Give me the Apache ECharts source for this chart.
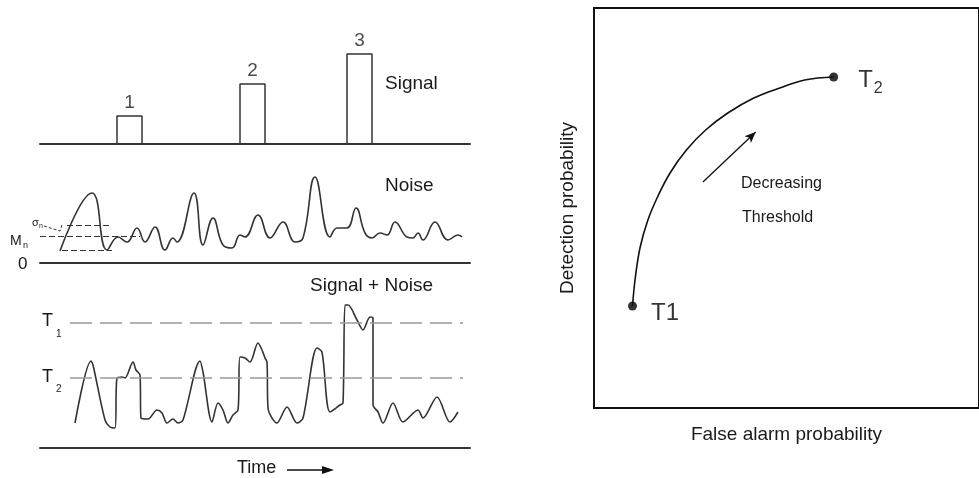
<!DOCTYPE html>
<html>
<head>
<meta charset="utf-8">
<script src="https://cdn.jsdelivr.net/npm/echarts@6/dist/echarts.min.js"></script>
<style>
html, body { margin: 0; padding: 0; background: #fff; }
#chart { width: 979px; height: 478px; }
</style>
</head>
<body>
<div id="chart"></div>
<script>
// left panels share one time axis (0..430)
const pulseStart = [77, 200, 307]
const pulseEnd = [102, 225, 332]
const pulseHeight = [28, 60, 90]
const pulseLabels = ['1', '2', '3']

const noiseT = [20, 52, 67, 78, 87, 97, 105, 115, 125, 133, 137, 154, 163, 173, 183, 192, 200, 205, 218, 230, 243, 255, 263, 275, 290, 297, 307, 316, 325, 332, 340, 347, 355, 367, 373, 378, 383, 395, 408, 418, 422]
const noiseV = [12, 70, 13, 26, 21, 35, 21, 36, 13, 25, 21, 70, 18, 45, 18, 15, 28, 26, 48, 25, 41, 21, 25, 86, 26, 35, 35, 55, 30, 25, 30, 28, 41, 26, 25, 30, 23, 41, 23, 28, 26]
const noiseMean = 27
const noiseUpper = 38
const noiseLower = 13

const sumT = [35, 51, 53, 65, 70, 75, 77, 82, 85, 93, 96, 100, 101, 108, 117, 122, 127, 133, 138, 143, 160, 163, 172, 178, 183, 188, 193, 198, 200, 205, 210, 218, 222, 225, 227, 228, 237, 247, 257, 263, 277, 282, 290, 300, 303, 305, 308, 317, 323, 330, 333, 333, 338, 343, 353, 363, 378, 383, 397, 410, 418]
const sumV = [25, 87, 83, 28, 21, 20, 70, 71, 70, 86, 78, 73, 30, 29, 38, 35, 25, 29, 25, 28, 87, 76, 26, 45, 38, 25, 33, 38, 91, 90, 86, 105, 98, 90, 86, 40, 25, 41, 25, 30, 100, 96, 36, 43, 45, 143, 143, 128, 118, 131, 130, 43, 36, 25, 45, 26, 38, 30, 51, 26, 36]
const thresholdValues = [125, 70]

// ROC curve, both axes 0..1
const rocX = [0.1, 0.1075, 0.12, 0.14, 0.165, 0.1975, 0.24, 0.29, 0.3475, 0.415, 0.4825, 0.5475, 0.6225]
const rocY = [0.255, 0.3275, 0.4025, 0.47, 0.5275, 0.5875, 0.645, 0.695, 0.7375, 0.775, 0.8, 0.82, 0.8275]
const arrowFrom = [0.283, 0.565]
const arrowTo = [0.42, 0.69]

const font = 'Liberation Sans, Arial, sans-serif'
const ink = '#1a1a1a'
const lineColor = '#333'

const signalData = [[0, 0]]
pulseStart.forEach((s, i) => {
  signalData.push([s, 0], [s, pulseHeight[i]], [pulseEnd[i], pulseHeight[i]], [pulseEnd[i], 0])
})
signalData.push([430, 0])

const leftX = (gridIndex) => ({
  type: 'value',
  gridIndex,
  min: 0,
  max: 430,
  axisLine: { show: true, onZero: false, lineStyle: { color: lineColor, width: 2 } },
  axisTick: { show: false },
  axisLabel: { show: false },
  splitLine: { show: false }
})
const hiddenY = (gridIndex, max) => ({
  type: 'value',
  gridIndex,
  min: 0,
  max,
  show: false
})

const dashedSeg = (t0, t1, v) => [{ coord: [t0, v] }, { coord: [t1, v] }]

const txt = (x, y, text, size, extra) => ({
  type: 'text',
  x, y,
  style: Object.assign({ text, fontSize: size, fontFamily: font, fill: ink, verticalAlign: 'middle' }, extra || {})
})

const chart = echarts.init(document.getElementById('chart'))
chart.setOption({
  animation: false,
  backgroundColor: '#fff',
  grid: [
    { left: 40, top: 44, width: 430, height: 100 },
    { left: 40, top: 163, width: 430, height: 100 },
    { left: 40, top: 288, width: 430, height: 160 },
    { left: 594, top: 8, width: 400, height: 400, show: true, borderColor: '#111', borderWidth: 2, backgroundColor: 'transparent' }
  ],
  xAxis: [
    leftX(0), leftX(1), leftX(2),
    {
      type: 'value', gridIndex: 3, min: 0, max: 1,
      name: 'False alarm probability', nameLocation: 'middle', nameGap: 17,
      nameTextStyle: { fontSize: 19, fontFamily: font, color: ink },
      axisLine: { show: false }, axisTick: { show: false }, axisLabel: { show: false }, splitLine: { show: false }
    }
  ],
  yAxis: [
    hiddenY(0, 100), hiddenY(1, 100), hiddenY(2, 160),
    {
      type: 'value', gridIndex: 3, min: 0, max: 1,
      name: 'Detection probability', nameLocation: 'middle', nameGap: 17,
      nameTextStyle: { fontSize: 19, fontFamily: font, color: ink },
      axisLine: { show: false }, axisTick: { show: false }, axisLabel: { show: false }, splitLine: { show: false }
    }
  ],
  series: [
    {
      type: 'line', xAxisIndex: 0, yAxisIndex: 0,
      data: signalData, symbol: 'none',
      lineStyle: { color: lineColor, width: 1.5 }
    },
    {
      type: 'scatter', xAxisIndex: 0, yAxisIndex: 0,
      data: pulseStart.map((s, i) => [(s + pulseEnd[i]) / 2, pulseHeight[i]]),
      symbolSize: 0,
      label: {
        show: true, position: 'top', distance: 4,
        formatter: (p) => pulseLabels[p.dataIndex],
        fontSize: 19, fontFamily: font, color: ink
      }
    },
    {
      type: 'line', xAxisIndex: 1, yAxisIndex: 1,
      data: noiseT.map((t, i) => [t, noiseV[i]]),
      symbol: 'none', smooth: 0.45,
      lineStyle: { color: lineColor, width: 1.6 },
      markLine: {
        silent: true, symbol: 'none', label: { show: false },
        lineStyle: { color: lineColor, width: 1.2, type: [6, 3] },
        data: [dashedSeg(27, 72, noiseUpper), dashedSeg(0, 100, noiseMean), dashedSeg(22, 72, noiseLower)]
      }
    },
    {
      type: 'line', xAxisIndex: 2, yAxisIndex: 2,
      data: sumT.map((t, i) => [t, sumV[i]]),
      symbol: 'none', smooth: 0.3,
      lineStyle: { color: lineColor, width: 1.6 },
      markLine: {
        silent: true, symbol: 'none', label: { show: false },
        lineStyle: { color: '#999', width: 1.5, type: [22, 8] },
        data: thresholdValues.map(v => dashedSeg(30, 423, v))
      }
    },
    {
      type: 'line', xAxisIndex: 3, yAxisIndex: 3,
      data: rocX.map((x, i) => [x, rocY[i]]),
      symbol: 'none', smooth: 0.4,
      lineStyle: { color: '#111', width: 1.6 }
    },
    {
      type: 'scatter', xAxisIndex: 3, yAxisIndex: 3,
      data: [
        { value: [rocX[0], rocY[0]], label: { formatter: '{t|T1}', offset: [0, 7] } },
        { value: [rocX[rocX.length - 1], rocY[rocY.length - 1]], label: { formatter: '{t|T}{s|2}', offset: [6, 3] } }
      ],
      symbolSize: 9,
      itemStyle: { color: '#000' },
      label: {
        show: true, position: 'right', distance: 14,
        rich: {
          t: { fontSize: 24, fontFamily: font, color: '#000' },
          s: { fontSize: 16, fontFamily: font, color: '#000', padding: [18, 0, 0, 1] }
        }
      },
      markLine: {
        silent: true, symbol: ['none', 'arrow'], symbolSize: [7, 11], label: { show: false },
        lineStyle: { color: '#111', width: 1.3, type: 'solid' },
        data: [[{ coord: arrowFrom }, { coord: arrowTo }]]
      }
    }
  ],
  graphic: [
    txt(385, 84, 'Signal', 19),
    txt(385, 186, 'Noise', 19),
    txt(310, 286, 'Signal + Noise', 19),
    txt(18, 264, '0', 17),
    txt(10, 241, 'M', 14),
    txt(23, 246, 'n', 9),
    txt(32, 223, 'σ', 11),
    txt(39, 226, 'n', 7),
    {
      type: 'polyline',
      shape: { points: [[44, 226], [60, 231], [62, 225]] },
      style: { stroke: lineColor, lineWidth: 1, lineDash: [3, 2], fill: null }
    },
    txt(42, 321, 'T', 18),
    txt(56, 334, '1', 10),
    txt(42, 377, 'T', 18),
    txt(56, 389, '2', 10),
    txt(237, 468, 'Time', 18),
    {
      type: 'line',
      shape: { x1: 287, y1: 470, x2: 326, y2: 470 },
      style: { stroke: '#111', lineWidth: 1.5 }
    },
    {
      type: 'polygon',
      shape: { points: [[334, 470], [322, 466], [322, 474]] },
      style: { fill: '#111' }
    },
    txt(741, 184, 'Decreasing', 16),
    txt(742, 218, 'Threshold', 16)
  ]
})
</script>
</body>
</html>
